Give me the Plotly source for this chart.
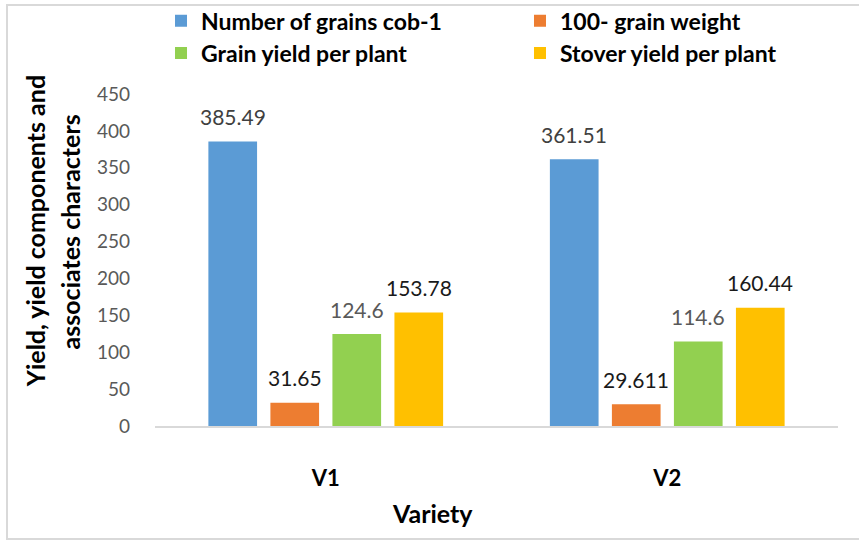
import plotly.graph_objects as go

categories = ["V1", "V2"]
series_names = ["Number of grains cob-1", "100- grain weight",
                "Grain yield per plant", "Stover yield per plant"]
grains_cob = [385.49, 361.51]
grain_weight_100 = [31.65, 29.611]
grain_yield = [124.6, 114.6]
stover_yield = [153.78, 160.44]
label_texts = [["385.49", "361.51"], ["31.65", "29.611"],
               ["124.6", "114.6"], ["153.78", "160.44"]]
y_ticks = [0, 50, 100, 150, 200, 250, 300, 350, 400, 450]

series_values = [grains_cob, grain_weight_100, grain_yield, stover_yield]
colors = ["#5B9BD5", "#ED7D31", "#92D050", "#FFC000"]
label_colors = ["#404040", "#1a1a1a", "#595959", "#1a1a1a"]
legend_ids = ["legend", "legend2", "legend3", "legend4"]
legend_pos = [(0.0088, 1.2208), (0.5344, 1.2208),
              (0.0088, 1.1235), (0.5344, 1.1235)]

FONT = "Lato, 'Open Sans', sans-serif"
BARGAP = 0.2736
GROUPGAP = 0.215
n = len(series_names)
slot = (1 - BARGAP) / n

fig = go.Figure()
for j, (name, vals) in enumerate(zip(series_names, series_values)):
    fig.add_trace(go.Bar(
        name=name, x=categories, y=vals, marker_color=colors[j],
        marker_line_width=0, legend=legend_ids[j], showlegend=True,
    ))

annotations = []
for j, vals in enumerate(series_values):
    for i, v in enumerate(vals):
        annotations.append(dict(
            x=i + (j - (n - 1) / 2) * slot, y=v, xref="x", yref="y",
            text=label_texts[j][i], showarrow=False, yanchor="middle",
            yshift=25, font=dict(family=FONT, size=21, color=label_colors[j]),
        ))

# axis titles
annotations.append(dict(text="<b>Variety</b>", xref="paper", yref="paper",
                        x=0.407, y=-0.262, showarrow=False,
                        xanchor="center", yanchor="middle",
                        font=dict(family=FONT, size=25, color="#000000")))
annotations.append(dict(text="<b>Yield, yield components and</b>", xref="paper",
                        yref="paper", x=-0.1745, y=0.586, showarrow=False,
                        textangle=-90, xanchor="center", yanchor="middle",
                        font=dict(family=FONT, size=25, color="#000000")))
annotations.append(dict(text="<b>associates characters</b>", xref="paper",
                        yref="paper", x=-0.1245, y=0.586, showarrow=False,
                        textangle=-90, xanchor="center", yanchor="middle",
                        font=dict(family=FONT, size=25, color="#000000")))

legends = {}
for j, lid in enumerate(legend_ids):
    lx, ly = legend_pos[j]
    legends[lid] = dict(orientation="h", xanchor="left", yanchor="middle",
                        x=lx, y=ly, bgcolor="rgba(0,0,0,0)", itemclick=False,
                        visible=True,
                        font=dict(family=FONT, size=23, color="#000000",
                                  weight="bold"))

fig.update_layout(
    width=859, height=541, showlegend=True,
    margin=dict(l=155, r=21, t=94, b=115, autoexpand=False),
    paper_bgcolor="white", plot_bgcolor="white",
    barmode="group", bargap=BARGAP, bargroupgap=GROUPGAP,
    font=dict(family=FONT),
    xaxis=dict(
        type="category", showline=True, linecolor="#d9d9d9", linewidth=1.5,
        showgrid=False, ticks="", ticklabelstandoff=32,
        tickfont=dict(family=FONT, size=22, color="#000000", weight="bold"),
    ),
    yaxis=dict(
        range=[0, 450], tickvals=y_ticks, showgrid=False, zeroline=False,
        showline=False, ticks="", ticklabelstandoff=24,
        tickfont=dict(family=FONT, size=19, color="#595959"),
    ),
    annotations=annotations,
    shapes=[dict(type="rect", xref="paper", yref="paper",
                 x0=-0.2167, x1=1.06, y0=-0.3404, y1=1.268,
                 line=dict(color="#d9d9d9", width=2), layer="below")],
    **legends,
)

fig.write_html("out.html", config={"displayModeBar": False},
               post_script="document.body.style.margin='0';")
